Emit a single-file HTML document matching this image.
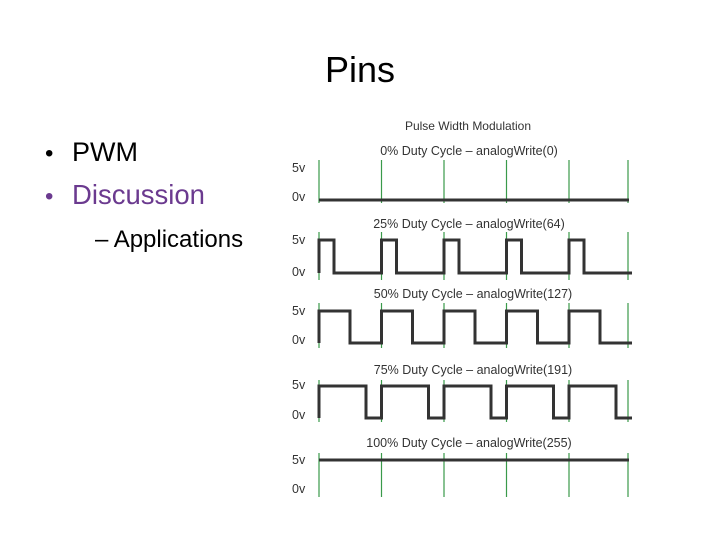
<!DOCTYPE html>
<html><head><meta charset="utf-8"><style>
body{margin:0;background:#fff;}
svg{display:block;}
</style></head><body>
<svg width="720" height="540" xmlns="http://www.w3.org/2000/svg">
<rect width="720" height="540" fill="#fff"/>
<text x="360" y="82" text-anchor="middle" font-family="Liberation Sans, sans-serif" font-size="36" fill="#000">Pins</text>
<g font-family="Liberation Sans, sans-serif">
<text x="45" y="161" font-size="24" fill="#000">•</text>
<text x="72" y="161" font-size="27" fill="#000">PWM</text>
<text x="45" y="204" font-size="24" fill="#6b3a8f">•</text>
<text x="72" y="204" font-size="27.5" fill="#6b3a8f">Discussion</text>
<text x="95" y="247" font-size="24" fill="#000">– Applications</text>
</g>
<g font-family="Liberation Sans, sans-serif" font-size="12.5" fill="#333">
<text x="468" y="130" text-anchor="middle" font-size="12">Pulse Width Modulation</text>
<text x="469" y="155" text-anchor="middle">0% Duty Cycle – analogWrite(0)</text>
<text x="469" y="228" text-anchor="middle">25% Duty Cycle – analogWrite(64)</text>
<text x="473" y="298" text-anchor="middle">50% Duty Cycle – analogWrite(127)</text>
<text x="473" y="374" text-anchor="middle">75% Duty Cycle – analogWrite(191)</text>
<text x="469" y="447" text-anchor="middle">100% Duty Cycle – analogWrite(255)</text>
<text x="292" y="172">5v</text><text x="292" y="201">0v</text>
<text x="292" y="244">5v</text><text x="292" y="276">0v</text>
<text x="292" y="315">5v</text><text x="292" y="344">0v</text>
<text x="292" y="389">5v</text><text x="292" y="419">0v</text>
<text x="292" y="464">5v</text><text x="292" y="493">0v</text>
</g>
<g stroke="#3a9a4a" stroke-width="1.2">
<line x1="319" y1="160" x2="319" y2="203"/><line x1="381.5" y1="160" x2="381.5" y2="203"/><line x1="444" y1="160" x2="444" y2="203"/><line x1="506.5" y1="160" x2="506.5" y2="203"/><line x1="569" y1="160" x2="569" y2="203"/><line x1="628" y1="160" x2="628" y2="203"/>
<line x1="319" y1="232" x2="319" y2="280"/><line x1="381.5" y1="232" x2="381.5" y2="280"/><line x1="444" y1="232" x2="444" y2="280"/><line x1="506.5" y1="232" x2="506.5" y2="280"/><line x1="569" y1="232" x2="569" y2="280"/><line x1="628" y1="232" x2="628" y2="280"/>
<line x1="319" y1="303" x2="319" y2="348"/><line x1="381.5" y1="303" x2="381.5" y2="348"/><line x1="444" y1="303" x2="444" y2="348"/><line x1="506.5" y1="303" x2="506.5" y2="348"/><line x1="569" y1="303" x2="569" y2="348"/><line x1="628" y1="303" x2="628" y2="348"/>
<line x1="319" y1="380" x2="319" y2="422"/><line x1="381.5" y1="380" x2="381.5" y2="422"/><line x1="444" y1="380" x2="444" y2="422"/><line x1="506.5" y1="380" x2="506.5" y2="422"/><line x1="569" y1="380" x2="569" y2="422"/><line x1="628" y1="380" x2="628" y2="422"/>
<line x1="319" y1="453" x2="319" y2="497"/><line x1="381.5" y1="453" x2="381.5" y2="497"/><line x1="444" y1="453" x2="444" y2="497"/><line x1="506.5" y1="453" x2="506.5" y2="497"/><line x1="569" y1="453" x2="569" y2="497"/><line x1="628" y1="453" x2="628" y2="497"/>
</g>
<g stroke="#333" stroke-width="3" fill="none">
<path d="M319 200 H629"/>
<path d="M319 273 V240 H334 V273 H381.5 V240 H396.5 V273 H444 V240 H459 V273 H506.5 V240 H521.5 V273 H569 V240 H584 V273 H632"/>
<path d="M319 343 V311 H350 V343 H381.5 V311 H412.5 V343 H444 V311 H475 V343 H506.5 V311 H537.5 V343 H569 V311 H600 V343 H632"/>
<path d="M319 418 V386 H366 V418 H381.5 V386 H428.5 V418 H444 V386 H491 V418 H506.5 V386 H553.5 V418 H569 V386 H616 V418 H632"/>
<path d="M319 460 H629"/>
</g>
</svg>
</body></html>
